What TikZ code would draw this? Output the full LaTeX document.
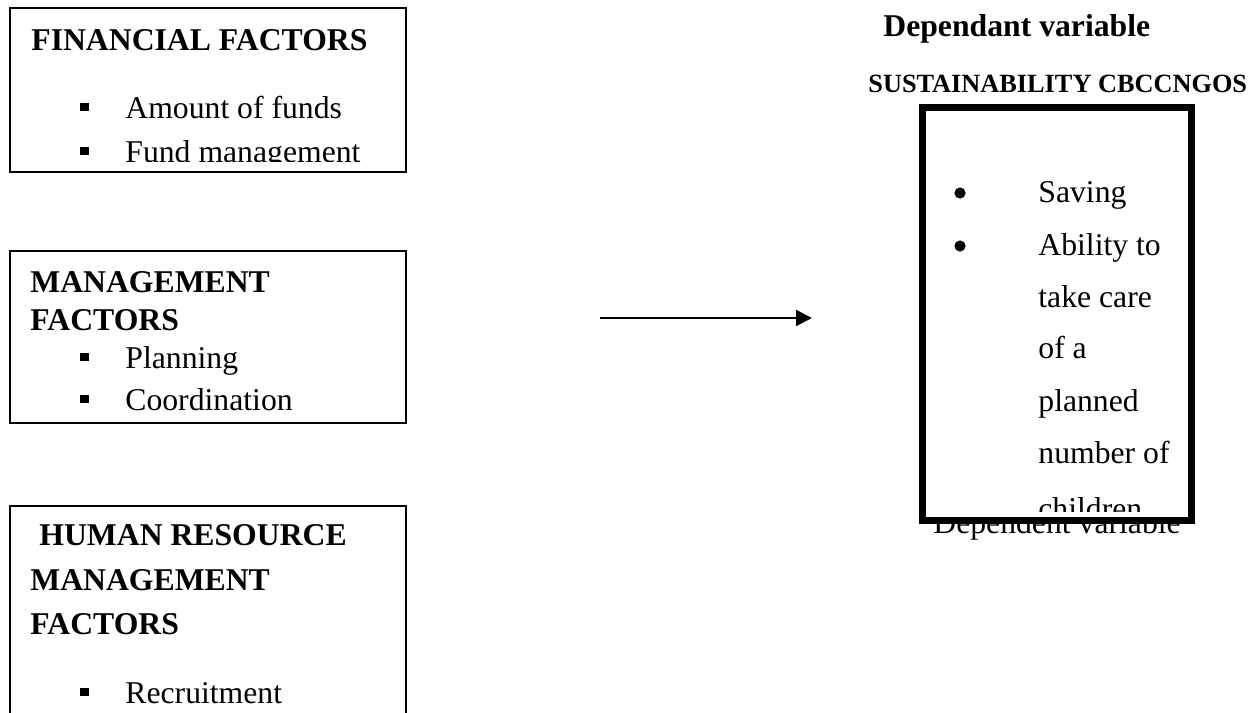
\documentclass[tikz,border=0pt]{standalone}
\usepackage{fontspec}
\setmainfont{Liberation Serif}
\usetikzlibrary{arrows.meta}
\tikzset{
  box/.style={draw, line width=1pt, inner sep=0pt, anchor=north west},
  txt/.style={anchor=base west, inner sep=0pt, font=\fontsize{15.85}{19}\selectfont},
  hd/.style={anchor=base west, inner sep=0pt, font=\fontsize{15.85}{19}\selectfont\bfseries},
  subhd/.style={anchor=base west, inner sep=0pt, font=\fontsize{13.15}{16}\selectfont\bfseries},
  sq/.style={fill, rectangle, minimum size=4.3pt, inner sep=0pt},
  rdot/.style={fill, circle, minimum size=5.6pt, inner sep=0pt},
  thickbox/.style={draw, fill=white, line width=3.75pt, inner sep=0pt, anchor=north west},
  conn/.style={line width=1.1pt, -{Triangle[length=8pt,width=8pt]}}
}
\begin{document}
\begin{tikzpicture}[x=0.5pt,y=-0.5pt]
\useasboundingbox (0,0) rectangle (1260,713);
\clip (0,0) rectangle (1260,713);
% ---- Financial factors
\node[box, minimum width=198pt, minimum height=82pt] (fin) at (9,7) {};
\node[hd] (finh) at (31,50) {FINANCIAL FACTORS};
\begin{scope}
  \clip (9,7) rectangle (405,161);
  \node[sq] (b11) at (84.5,107) {};
  \node[txt] (f1) at (125,118) {Amount of funds};
  \node[sq] (b12) at (84.5,151) {};
  \node[txt] (f2) at (125,162.5) {Fund management};
\end{scope}
% ---- Management factors
\node[box, minimum width=198pt, minimum height=86pt] (mgt) at (9,250) {};
\node[hd] (mgth1) at (30,292) {MANAGEMENT};
\node[hd] (mgth2) at (30,330) {FACTORS};
\node[sq] (b21) at (84.5,357) {};
\node[txt] (m1) at (125,368) {Planning};
\node[sq] (b22) at (84.5,399) {};
\node[txt] (m2) at (125,410) {Coordination};
% ---- HRM factors
\node[box, minimum width=198pt, minimum height=120pt] (hrm) at (9,505) {};
\node[hd] (hrmh1) at (39,545) {HUMAN RESOURCE};
\node[hd] (hrmh2) at (30,590) {MANAGEMENT};
\node[hd] (hrmh3) at (30,634) {FACTORS};
\node[sq] (b31) at (84.5,692) {};
\node[txt] (h1) at (125,703) {Recruitment};
% ---- Arrow
\coordinate (arrS) at (600,318);
\coordinate (arrE) at (812,318);
\draw[conn] (arrS) -- (arrE);
% ---- Dependent variable side
\node[hd] (dep) at (883,36) {Dependant variable};
\node[subhd] (sus) at (868,92) {SUSTAINABILITY CBCCNGOS};
\node[txt] (dv) at (933,533) {Dependent variable};
\node[thickbox, minimum width=134.5pt, minimum height=206.5pt] (sbox) at (918.5,103.5) {};
\begin{scope}
  \clip (922,107) rectangle (1184,511);
  \node[rdot] (d1) at (960,193) {};
  \node[txt] (s1) at (1038,202) {Saving};
  \node[rdot] (d2) at (960,246) {};
  \node[txt] (s2) at (1038,255) {Ability to};
  \node[txt] (s3) at (1038,307) {take care};
  \node[txt] (s4) at (1038,358) {of a};
  \node[txt] (s5) at (1038,411) {planned};
  \node[txt] (s6) at (1038,463) {number of};
  \node[txt] (s7) at (1038,519) {children};
\end{scope}
\end{tikzpicture}
\end{document}
